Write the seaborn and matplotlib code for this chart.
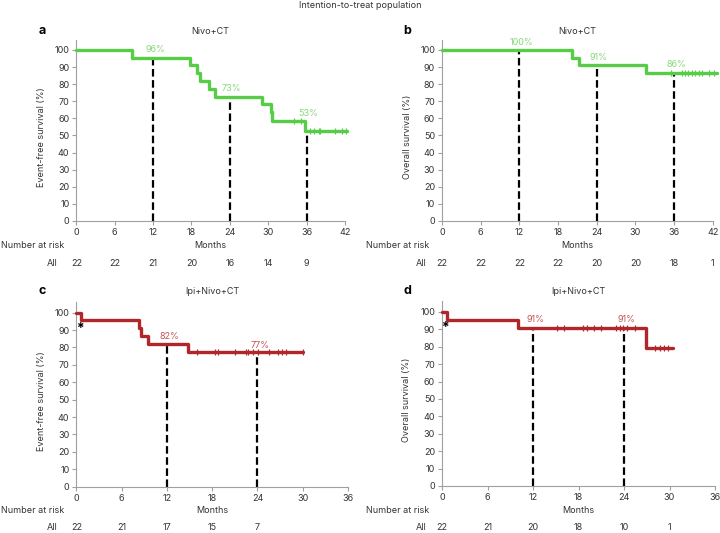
import numpy as np
import pandas as pd
import matplotlib
matplotlib.use("Agg")
import matplotlib.pyplot as plt
import matplotlib.transforms as mtransforms
import seaborn as sns

sns.set_theme(style="white")
plt.rcParams['font.family'] = ['Inter', 'DejaVu Sans']

# ---------------- data ----------------
# Panel a: EFS, Nivo+CT
a_times = [0, 8.7, 17.7, 18.9, 19.4, 20.7, 21.7, 29.1, 30.4, 30.6, 35.7, 42.3]
a_surv = [100, 95.5, 90.9, 86.4, 81.8, 77.3, 72.7, 68.2, 63.6, 58.6, 52.6, 52.6]
a_cens_t = [34.0, 35.1, 36.5, 37.1, 37.9, 38.1, 40.5, 41.6, 42.1]
a_cens_s = [58.6, 58.6, 52.6, 52.6, 52.6, 52.6, 52.6, 52.6, 52.6]
a_marks = [12, 24, 36]
a_mark_vals = [95.5, 72.7, 52.6]
a_mark_labels = ["96%", "73%", "53%"]
a_label_y = [100.4, 77.2, 63.0]
a_risk = [22, 22, 21, 20, 16, 14, 9]

# Panel b: OS, Nivo+CT
b_times = [0, 20.2, 21.2, 31.7, 42.6]
b_surv = [100, 95.5, 90.9, 86.4, 86.4]
b_cens_t = [35.6, 37.2, 37.7, 38.2, 38.8, 39.3, 39.8, 40.4, 41.4, 42.2]
b_cens_s = [86.4] * 10
b_marks = [12, 24, 36]
b_mark_vals = [100, 90.9, 86.4]
b_mark_labels = ["100%", "91%", "86%"]
b_label_y = [104.5, 95.3, 91.3]
b_risk = [22, 22, 22, 22, 20, 20, 18, 1]

# Panel c: EFS, Ipi+Nivo+CT
c_times = [0, 0.6, 8.3, 8.6, 9.5, 14.8, 30.0]
c_surv = [100, 95.5, 90.9, 86.4, 81.8, 77.3, 77.3]
c_cens_t = [16.0, 18.4, 18.8, 21.0, 22.5, 22.8, 23.4, 24.1, 25.5, 26.7, 27.2, 27.8, 30.0]
c_cens_s = [77.3] * 13
c_marks = [12, 24]
c_mark_vals = [81.8, 77.3]
c_mark_labels = ["82%", "77%"]
c_label_y = [86.2, 81.4]
c_risk = [22, 21, 17, 15, 7]

# Panel d: OS, Ipi+Nivo+CT
d_times = [0, 0.7, 10.0, 26.9, 30.5]
d_surv = [100, 95.5, 90.9, 79.5, 79.5]
d_cens_t = [15.1, 16.1, 18.55, 19.1, 20.0, 21.0, 23.0, 23.5, 23.9, 24.4, 25.5,
            28.1, 28.7, 29.3, 29.8]
d_cens_s = [90.9] * 11 + [79.5] * 4
d_marks = [12, 24]
d_mark_vals = [90.9, 90.9]
d_mark_labels = ["91%", "91%"]
d_label_y = [95.6, 95.6]
d_risk = [22, 21, 20, 18, 10, 1]

GREEN = "#57CC47"
GREEN_T = "#86D877"
RED = "#B0262B"
RED_T = "#C8505A"
TXT = "#333333"
SPINE = "#A0A0A0"
FS = 6.5

fig = plt.figure(figsize=(7.2, 5.33), dpi=100)

fig.text(0.5, 0.9906, "Intention-to-treat population", ha="center", va="center",
         fontsize=FS, color=TXT)

panels = [
    dict(rect=[0.106, 0.5854, 0.3732, 0.3396], ylim=105.8, xmax=42,
         t=a_times, s=a_surv, ct=a_cens_t, cs=a_cens_s, m=a_marks, mv=a_mark_vals,
         ml=a_mark_labels, ly=a_label_y, risk=a_risk, col=GREEN, tcol=GREEN_T, letter="a",
         title="Nivo+CT", ylabel="Event-free survival (%)", star=False,
         ty=0.9418, my=0.5385, ay=0.5047, nx=0.001, allx=0.080),
    dict(rect=[0.6139, 0.5854, 0.3760, 0.3396], ylim=105.8, xmax=42,
         t=b_times, s=b_surv, ct=b_cens_t, cs=b_cens_s, m=b_marks, mv=b_mark_vals,
         ml=b_mark_labels, ly=b_label_y, risk=b_risk, col=GREEN, tcol=GREEN_T, letter="b",
         title="Nivo+CT", ylabel="Overall survival (%)", star=False,
         ty=0.9418, my=0.5385, ay=0.5047, nx=0.508, allx=0.5926),
    dict(rect=[0.106, 0.0869, 0.3774, 0.3471], ylim=106.3, xmax=36,
         t=c_times, s=c_surv, ct=c_cens_t, cs=c_cens_s, m=c_marks, mv=c_mark_vals,
         ml=c_mark_labels, ly=c_label_y, risk=c_risk, col=RED, tcol=RED_T, letter="c",
         title="Ipi+Nivo+CT", ylabel="Event-free survival (%)", star=True,
         ty=0.454, my=0.0418, ay=0.0094, nx=0.001, allx=0.080),
    dict(rect=[0.6139, 0.0882, 0.3792, 0.3471], ylim=106.3, xmax=36,
         t=d_times, s=d_surv, ct=d_cens_t, cs=d_cens_s, m=d_marks, mv=d_mark_vals,
         ml=d_mark_labels, ly=d_label_y, risk=d_risk, col=RED, tcol=RED_T, letter="d",
         title="Ipi+Nivo+CT", ylabel="Overall survival (%)", star=True,
         ty=0.454, my=0.0418, ay=0.0094, nx=0.508, allx=0.5926),
]

for p in panels:
    ax = fig.add_axes(p["rect"])
    df = pd.DataFrame({"t": p["t"], "s": p["s"]})
    # dashed landmark lines
    for x, v in zip(p["m"], p["mv"]):
        ax.plot([x, x], [0, v], color="black", lw=1.6, ls=(0, (3.4, 1.6)), zorder=2,
                clip_on=False)
    sns.lineplot(data=df, x="t", y="s", drawstyle="steps-post", color=p["col"],
                 lw=2.4, estimator=None, sort=False, ax=ax, zorder=3, clip_on=False)
    ax.plot(p["ct"], p["cs"], ls="none", marker="|", ms=4.5, mew=0.9,
            color=p["col"], zorder=4, clip_on=False)
    for x, yv, lab in zip(p["m"], p["ly"], p["ml"]):
        ax.text(x + 0.3, yv, lab, ha="center", va="center", fontsize=FS,
                color=p["tcol"], zorder=5)
    if p["star"]:
        ax.text(0.55, 90.5, "*", ha="center", va="center", fontsize=10,
                color="black", fontweight="bold")
    ax.set_xlim(0, p["xmax"])
    ax.set_ylim(0, p["ylim"])
    ax.set_xticks(np.arange(0, p["xmax"] + 1, 6))
    ax.set_yticks(np.arange(0, 101, 10))
    for side in ["top", "right"]:
        ax.spines[side].set_visible(False)
    for side in ["left", "bottom"]:
        ax.spines[side].set_color(SPINE)
        ax.spines[side].set_linewidth(0.8)
    ax.tick_params(axis="both", direction="out", length=3, width=0.8, color=SPINE,
                   labelsize=FS, labelcolor=TXT, pad=2,
                   left=True, bottom=True)
    ax.set_xlabel("")
    ax.set_ylabel(p["ylabel"], fontsize=FS, color=TXT)
    ax.yaxis.set_label_coords(-0.112, 0.464)

    x0, y0, w, h = p["rect"]
    cx = x0 + w / 2
    fig.text(cx, p["ty"], p["title"], ha="center", va="center", fontsize=FS, color=TXT)
    fig.text(x0 - 0.048, p["ty"], p["letter"], ha="center", va="center",
             fontsize=9, fontweight="bold", color="black")
    fig.text(cx, p["my"], "Months", ha="center", va="center", fontsize=FS, color=TXT)
    fig.text(p["nx"], p["my"], "Number at risk", ha="left", va="center",
             fontsize=FS, color=TXT)
    fig.text(p["allx"], p["ay"], "All", ha="right", va="center", fontsize=FS, color=TXT)
    trans = mtransforms.blended_transform_factory(ax.transData, fig.transFigure)
    for i, r in enumerate(p["risk"]):
        ax.text(6 * i, p["ay"], str(r), transform=trans, ha="center", va="center",
                fontsize=FS, color=TXT, clip_on=False)

fig.savefig("out.png", dpi=100)
